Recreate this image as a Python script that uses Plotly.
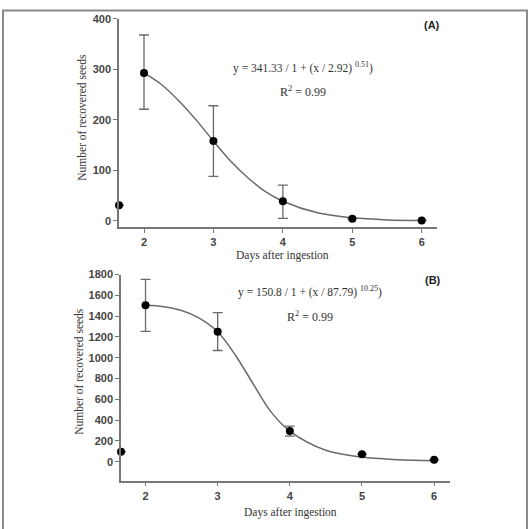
import plotly.graph_objects as go

# ---------- Data ----------
days_pts = [1.64, 2, 3, 4, 5, 6]
# Panel A
seeds_a = [31, 293, 158, 39, 4, 1]
err_up_a = [0, 75, 70, 32, 0, 0]
err_dn_a = [0, 72, 70, 34, 0, 0]
curve_x_a = [2, 2.25, 2.5, 2.75, 3, 3.25, 3.5, 3.75, 4, 4.5, 5, 5.5, 6]
curve_y_a = [293, 270, 238, 200, 158, 118, 85, 58, 39, 16, 6, 2, 1]

# Panel B
days_pts_b = [1.66, 2, 3, 4, 5, 6]
seeds_b = [95, 1505, 1250, 295, 73, 19]
err_up_b = [0, 250, 185, 47, 0, 0]
err_dn_b = [0, 250, 180, 48, 0, 0]
curve_x_b = [2, 2.25, 2.5, 2.75, 3, 3.25, 3.5, 3.75, 4, 4.5, 5, 5.5, 6]
curve_y_b = [1505, 1492, 1455, 1380, 1250, 1020, 740, 470, 295, 110, 45, 20, 10]

xticks = [2, 3, 4, 5, 6]
yticks_a = [0, 100, 200, 300, 400]
yticks_b = [0, 200, 400, 600, 800, 1000, 1200, 1400, 1600, 1800]

eq_a = "y = 341.33 / 1 + (x / 2.92) <sup>0.51</sup>)"
eq_b = "y = 150.8 / 1 + (x / 87.79) <sup>10.25</sup>)"
r2 = "R<sup>2</sup> = 0.99"

W, H = 531, 529
fig = go.Figure()

LINE = "#6a6a6a"
serif = "Liberation Serif, Times New Roman, serif"
sans = "Liberation Sans, Arial, sans-serif"

# Panel A
fig.add_trace(go.Scatter(x=curve_x_a, y=curve_y_a, mode="lines", line=dict(color=LINE, width=1.5, shape="spline"),
                         xaxis="x", yaxis="y", showlegend=False, hoverinfo="skip"))
fig.add_trace(go.Scatter(x=days_pts, y=seeds_a, mode="markers",
                         marker=dict(color="black", size=8),
                         error_y=dict(type="data", symmetric=False, array=err_up_a, arrayminus=err_dn_a,
                                      color=LINE, thickness=1.3, width=5),
                         xaxis="x", yaxis="y", showlegend=False, cliponaxis=False))
# Panel B
fig.add_trace(go.Scatter(x=curve_x_b, y=curve_y_b, mode="lines", line=dict(color=LINE, width=1.5, shape="spline"),
                         xaxis="x2", yaxis="y2", showlegend=False, hoverinfo="skip"))
fig.add_trace(go.Scatter(x=days_pts_b, y=seeds_b, mode="markers",
                         marker=dict(color="black", size=8),
                         error_y=dict(type="data", symmetric=False, array=err_up_b, arrayminus=err_dn_b,
                                      color=LINE, thickness=1.3, width=5),
                         xaxis="x2", yaxis="y2", showlegend=False, cliponaxis=False))

axis_common = dict(showline=True, linecolor="#777", linewidth=1.5, ticks="outside", ticklen=4,
                   tickcolor="#777", tickwidth=1.2, showgrid=False, zeroline=False,
                   tickfont=dict(family=sans, size=11, color="#444", weight="bold"))

fig.update_layout(
    width=W, height=H, margin=dict(l=0, r=0, t=0, b=0),
    paper_bgcolor="white", plot_bgcolor="white",
    xaxis=dict(domain=[119 / W, 437 / W], range=[1.64, 6.22], tickvals=xticks, anchor="y", **axis_common),
    yaxis=dict(domain=[1 - 224 / H, 1 - 13 / H], range=[-13, 400], tickvals=yticks_a, anchor="x", **axis_common),
    xaxis2=dict(domain=[121 / W, 450 / W], range=[1.66, 6.22], tickvals=xticks, anchor="y2", **axis_common),
    yaxis2=dict(domain=[1 - 480 / H, 1 - 271.7 / H], range=[-181, 1800], tickvals=yticks_b, anchor="x2", **axis_common),
)

def ann(text, x, y, size=12, family=serif, color="#333", angle=0, weight="normal"):
    fig.add_annotation(text=text, x=x / W, y=1 - y / H, xref="paper", yref="paper", showarrow=False,
                       xanchor="center", yanchor="middle", textangle=angle,
                       font=dict(family=family, size=size, color=color, weight=weight))

ann(eq_a, 303, 62, size=11.5)
ann(r2, 303, 86, size=12)
ann("(A)", 432, 19, size=11, family=sans, color="#222", weight="bold")
ann("Number of recovered seeds", 82, 113, size=11.5, angle=-90)
ann("Days after ingestion", 282, 252, size=11.5)

ann(eq_b, 310, 289, size=11.5)
ann(r2, 310, 314, size=12)
ann("(B)", 433, 277, size=11, family=sans, color="#222", weight="bold")
ann("Number of recovered seeds", 79, 370, size=11.5, angle=-90)
ann("Days after ingestion", 290, 512, size=11.5)

# frame
fig.add_shape(type="rect", xref="paper", yref="paper", x0=3 / W, x1=527 / W, y0=-0.05, y1=1 - 4.5 / H,
              line=dict(color="#8a8a8a", width=2))

fig.write_html("out.html")
